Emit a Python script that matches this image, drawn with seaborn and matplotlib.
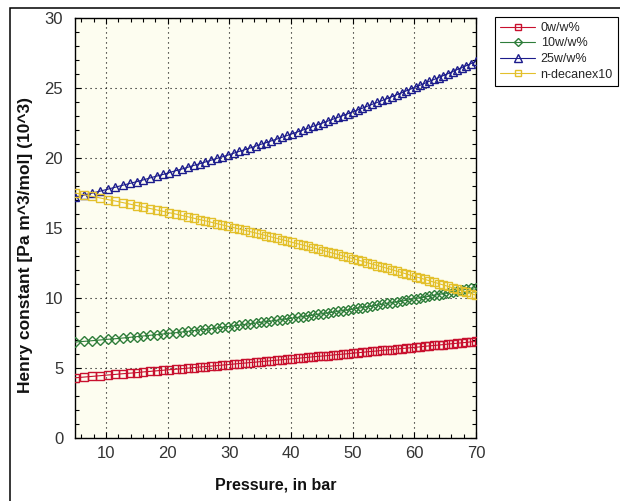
import matplotlib
matplotlib.use("Agg")
import matplotlib.pyplot as plt
from matplotlib.patches import Rectangle
from matplotlib.ticker import MultipleLocator
import seaborn as sns
import pandas as pd

# Pressure grid (bar)
pressure = [5.0, 6.4, 7.75, 9.05, 10.3, 11.5, 12.7, 13.85, 15.0, 16.1, 17.2, 18.25, 19.3,
            20.3, 21.3, 22.3, 23.3, 24.25, 25.2, 26.15, 27.1, 28.0, 28.9, 29.8, 30.7, 31.6,
            32.5, 33.4, 34.3, 35.15, 36.0, 36.85, 37.7, 38.55, 39.4, 40.25, 41.1, 41.95,
            42.8, 43.6, 44.4, 45.2, 46.0, 46.8, 47.6, 48.4, 49.2, 50.0, 50.8, 51.6, 52.4,
            53.2, 54.0, 54.8, 55.6, 56.4, 57.2, 57.95, 58.7, 59.45, 60.2, 60.95, 61.7,
            62.45, 63.2, 63.95, 64.7, 65.45, 66.2, 66.95, 67.7, 68.45, 69.2, 70.0]

# Henry constants (x 10^3 Pa m^3/mol)
h_0 = [4.30, 4.35, 4.40, 4.45, 4.50, 4.54, 4.59, 4.63, 4.67, 4.72, 4.76, 4.80, 4.84,
       4.88, 4.91, 4.95, 4.99, 5.03, 5.07, 5.10, 5.14, 5.17, 5.21, 5.24, 5.28, 5.32,
       5.35, 5.39, 5.42, 5.46, 5.49, 5.52, 5.56, 5.59, 5.63, 5.66, 5.69, 5.73,
       5.76, 5.80, 5.83, 5.86, 5.89, 5.93, 5.96, 5.99, 6.02, 6.06, 6.09, 6.12, 6.16,
       6.19, 6.22, 6.26, 6.29, 6.32, 6.36, 6.39, 6.42, 6.45, 6.48, 6.51, 6.55,
       6.58, 6.61, 6.64, 6.67, 6.71, 6.74, 6.77, 6.80, 6.83, 6.87, 6.90]

h_10 = [6.85, 6.90, 6.95, 7.00, 7.05, 7.09, 7.14, 7.19, 7.24, 7.29, 7.34, 7.38, 7.43,
        7.48, 7.52, 7.57, 7.62, 7.67, 7.72, 7.76, 7.81, 7.86, 7.91, 7.96, 8.01, 8.06,
        8.11, 8.16, 8.21, 8.26, 8.31, 8.36, 8.41, 8.46, 8.51, 8.57, 8.62, 8.67,
        8.73, 8.78, 8.83, 8.88, 8.94, 8.99, 9.04, 9.10, 9.15, 9.21, 9.26, 9.32, 9.38,
        9.43, 9.49, 9.55, 9.61, 9.67, 9.73, 9.78, 9.84, 9.90, 9.96, 10.01, 10.07,
        10.13, 10.19, 10.25, 10.31, 10.37, 10.43, 10.50, 10.56, 10.62, 10.68, 10.75]

h_25 = [17.20, 17.35, 17.49, 17.63, 17.77, 17.91, 18.05, 18.18, 18.31, 18.44, 18.58, 18.71, 18.83,
        18.96, 19.09, 19.21, 19.34, 19.47, 19.59, 19.72, 19.85, 19.97, 20.09, 20.21, 20.34, 20.47,
        20.59, 20.72, 20.85, 20.98, 21.10, 21.23, 21.35, 21.48, 21.61, 21.74, 21.87, 22.00,
        22.13, 22.26, 22.39, 22.51, 22.64, 22.77, 22.90, 23.03, 23.16, 23.30, 23.43, 23.56, 23.70,
        23.84, 23.97, 24.11, 24.25, 24.39, 24.53, 24.66, 24.80, 24.93, 25.07, 25.20, 25.34,
        25.48, 25.61, 25.75, 25.89, 26.03, 26.17, 26.32, 26.46, 26.60, 26.75, 26.90]

h_decane = [17.50, 17.38, 17.26, 17.15, 17.03, 16.93, 16.82, 16.71, 16.60, 16.50, 16.39, 16.29, 16.19,
            16.09, 16.00, 15.90, 15.80, 15.70, 15.60, 15.51, 15.41, 15.31, 15.22, 15.12, 15.03, 14.93,
            14.84, 14.74, 14.64, 14.55, 14.45, 14.36, 14.26, 14.17, 14.07, 13.97, 13.87, 13.78,
            13.68, 13.58, 13.49, 13.39, 13.30, 13.20, 13.11, 13.01, 12.91, 12.82, 12.72, 12.62, 12.52,
            12.42, 12.32, 12.22, 12.12, 12.02, 11.91, 11.82, 11.72, 11.62, 11.52, 11.43, 11.33,
            11.23, 11.13, 11.03, 10.93, 10.83, 10.72, 10.62, 10.52, 10.42, 10.31, 10.20]

labels = ["0w/w%", "10w/w%", "25w/w%", "n-decanex10"]
series = [h_0, h_10, h_25, h_decane]
colors = ["#c8102e", "#2e7d3a", "#1c1c8c", "#e3c02c"]
markers = ["s", "D", "^", "s"]
msizes = [5.4, 4.8, 6.0, 5.4]

x_ticks = [10, 20, 30, 40, 50, 60, 70]
y_ticks = [0, 5, 10, 15, 20, 25, 30]

sns.set_theme(style="ticks")
plt.rcParams["font.family"] = ["Liberation Sans", "DejaVu Sans"]

W, H = 620, 501
fig = plt.figure(figsize=(W / 100, H / 100), dpi=100)
fig.patch.set_facecolor("white")

# outer frame around the whole figure
fig.add_artist(Rectangle((9.5 / W, -0.1), 1.1, (1 - 7.5 / H) + 0.1,
                         transform=fig.transFigure, fill=False,
                         edgecolor="black", linewidth=1.1, clip_on=False))

ax = fig.add_axes([75 / W, 1 - 438 / H, 401 / W, 420 / H])
ax.set_facecolor("#fdfdf0")

for lab, vals, col, mk, ms in zip(labels, series, colors, markers, msizes):
    df = pd.DataFrame({"P": pressure, "H": vals})
    sns.lineplot(data=df, x="P", y="H", ax=ax, color=col, linewidth=0.8,
                 marker=mk, markersize=ms, markerfacecolor="none",
                 markeredgecolor=col, markeredgewidth=1.0, label=lab,
                 zorder=3, clip_on=True)

ax.set_xlim(5, 70)
ax.set_ylim(0, 30)
ax.set_xticks(x_ticks)
ax.set_yticks(y_ticks)
ax.xaxis.set_minor_locator(MultipleLocator(2))
ax.yaxis.set_minor_locator(MultipleLocator(1))

ax.grid(True, which="major", color="black", linestyle=(0, (1, 3.5)), linewidth=0.8)
ax.set_axisbelow(True)

ax.tick_params(which="both", direction="in", top=True, right=True,
               color="black", width=0.8)
ax.tick_params(which="major", length=4.5, labelsize=12, labelcolor="#333333")
ax.tick_params(axis="y", which="major", pad=8.5)
ax.tick_params(axis="x", which="major", pad=6.0)
ax.tick_params(which="minor", length=2.8)

for sp in ax.spines.values():
    sp.set_visible(True)
    sp.set_color("black")
    sp.set_linewidth(1.0)

ax.set_xlabel("Pressure, in bar", fontsize=11.5, fontweight="bold", color="#111111")
ax.set_ylabel("Henry constant [Pa m^3/mol] (10^3)", fontsize=12.5,
              fontweight="bold", color="#111111")
ax.xaxis.set_label_coords(0.5, -0.095)
ax.yaxis.set_label_coords(-0.105, 0.46)

leg = ax.legend(loc="upper left", bbox_to_anchor=(495 / W, 1 - 17 / H),
                bbox_transform=fig.transFigure, borderaxespad=0, fontsize=9,
                frameon=True, fancybox=False, edgecolor="black", framealpha=1,
                handlelength=2.8, labelspacing=0.28, borderpad=0.4,
                handletextpad=0.45, markerscale=0.85)
leg.get_frame().set_linewidth(0.8)

fig.savefig("out.png", dpi=100)
